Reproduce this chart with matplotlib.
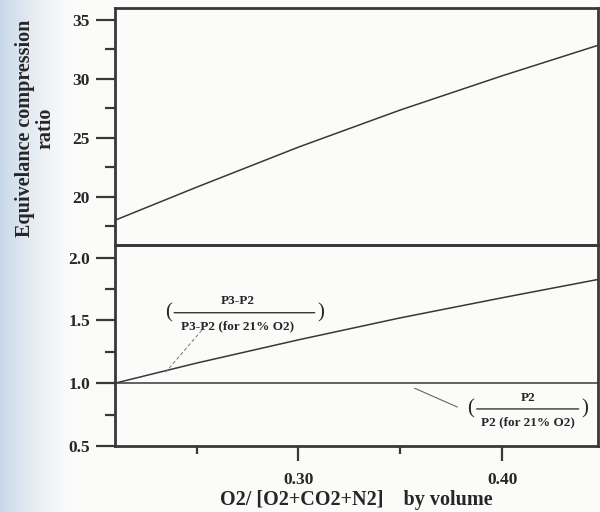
import numpy as np
import matplotlib
matplotlib.use("Agg")
import matplotlib.pyplot as plt
from matplotlib.ticker import FixedLocator

plt.rcParams['font.family'] = ['Liberation Serif', 'DejaVu Serif']
plt.rcParams['font.weight'] = 'bold'

# O2 fraction by volume
o2_frac = [0.21, 0.25, 0.30, 0.35, 0.40, 0.45]
# equivalence compression ratio
comp_ratio = [18.0, 20.8, 24.2, 27.35, 30.25, 33.0]
# (P3-P2) / (P3-P2 at 21% O2)
p3p2_ratio = [1.0, 1.16, 1.345, 1.52, 1.68, 1.835]
# P2 / (P2 at 21% O2)
p2_ratio = [1.0, 1.0, 1.0, 1.0, 1.0, 1.0]

ink = '#383838'
txt = '#262626'
frame_w = 2.0

fig = plt.figure(figsize=(6, 5.12), dpi=100)
fig.patch.set_facecolor('#fbfbfa')

# bluish page edge on the left
W, H = 600, 512
fade = np.clip(1 - np.arange(W) / 75.0, 0, 1) ** 1.5
edge = np.zeros((H, W, 4))
edge[..., 0] = 0.72
edge[..., 1] = 0.80
edge[..., 2] = 0.90
edge[..., 3] = fade[None, :] * 0.75
fig.figimage(edge, 0, 0, zorder=0)

ax_top = fig.add_axes([115 / 600, 1 - 245 / 512, 483 / 600, 237 / 512])
ax_bot = fig.add_axes([115 / 600, 1 - 446 / 512, 483 / 600, 201 / 512])

for ax in (ax_top, ax_bot):
    ax.set_facecolor('none')
    for s in ax.spines.values():
        s.set_linewidth(frame_w)
        s.set_color(ink)
    ax.set_xlim(0.21, 0.447)
    ax.tick_params(axis='y', which='major', length=14, width=1.6, color=ink,
                   pad=4, labelsize=12.5, labelcolor=txt)
    ax.tick_params(axis='y', which='minor', length=7, width=1.6, color=ink)

# upper panel: compression ratio
ax_top.plot(o2_frac, comp_ratio, color=ink, lw=1.1)
ax_top.set_ylim(15.9, 36.0)
ax_top.yaxis.set_major_locator(FixedLocator([20, 25, 30, 35]))
ax_top.yaxis.set_minor_locator(FixedLocator([17.5, 22.5, 27.5, 32.5]))
ax_top.set_xticks([])
ax_top.set_xticks([], minor=True)

# lower panel: pressure ratios
ax_bot.plot(o2_frac, p3p2_ratio, color=ink, lw=1.1)
ax_bot.plot(o2_frac, p2_ratio, color=ink, lw=1.1)
ax_bot.set_ylim(0.5, 2.1)
ax_bot.yaxis.set_major_locator(FixedLocator([0.5, 1.0, 1.5, 2.0]))
ax_bot.yaxis.set_minor_locator(FixedLocator([0.75, 1.25, 1.75]))
ax_bot.set_yticklabels(['0.5', '1.0', '1.5', '2.0'])
ax_bot.xaxis.set_major_locator(FixedLocator([0.30, 0.40]))
ax_bot.xaxis.set_minor_locator(FixedLocator([0.25, 0.35]))
ax_bot.set_xticklabels(['0.30', '0.40'])
ax_bot.tick_params(axis='x', which='major', length=11, width=1.6, color=ink,
                   pad=8, labelsize=12.5, labelcolor=txt)
ax_bot.tick_params(axis='x', which='minor', length=6, width=1.6, color=ink)
ax_bot.set_xlabel('O2/ [O2+CO2+N2]    by volume', fontsize=14.5,
                  fontweight='bold', labelpad=1, color=txt)

fig.text(35 / 600, 1 - 128 / 512, 'Equivelance compression\nratio',
         rotation=90, ha='center', va='center', multialignment='center',
         fontsize=14.5, fontweight='bold', color=txt, linespacing=1.05)

# fraction labels
def frac_label(ax, xc, yc, x0, x1, num, den, fs=9.5):
    ax.text(xc, yc + 0.09, num, ha='center', va='center', fontsize=fs,
            fontweight='bold', color=txt)
    ax.text(xc, yc - 0.11, den, ha='center', va='center', fontsize=fs,
            fontweight='bold', color=txt)
    ax.annotate('', xy=(x1, yc), xytext=(x0, yc),
                arrowprops=dict(arrowstyle='-', color=ink, lw=1.0,
                                shrinkA=0, shrinkB=0))
    ax.text(x0 - 0.0028, yc, '(', ha='center', va='center', fontsize=15,
            fontweight='normal', color=txt)
    ax.text(x1 + 0.0028, yc, ')', ha='center', va='center', fontsize=15,
            fontweight='normal', color=txt)

frac_label(ax_bot, 0.2700, 1.561, 0.2390, 0.3080, 'P3-P2', 'P3-P2 (for 21% O2)')
frac_label(ax_bot, 0.4125, 0.795, 0.3875, 0.4375, 'P2', 'P2 (for 21% O2)')

ax_bot.annotate('', xy=(0.235, 1.09), xytext=(0.2525, 1.42),
                arrowprops=dict(arrowstyle='-', color='#777777', lw=0.7,
                                linestyle=(0, (3, 3)), shrinkA=0, shrinkB=0))
ax_bot.annotate('', xy=(0.357, 0.96), xytext=(0.378, 0.81),
                arrowprops=dict(arrowstyle='-', color='#666666', lw=0.8,
                                shrinkA=0, shrinkB=0))

fig.savefig('out.png', dpi=100, facecolor=fig.get_facecolor())
